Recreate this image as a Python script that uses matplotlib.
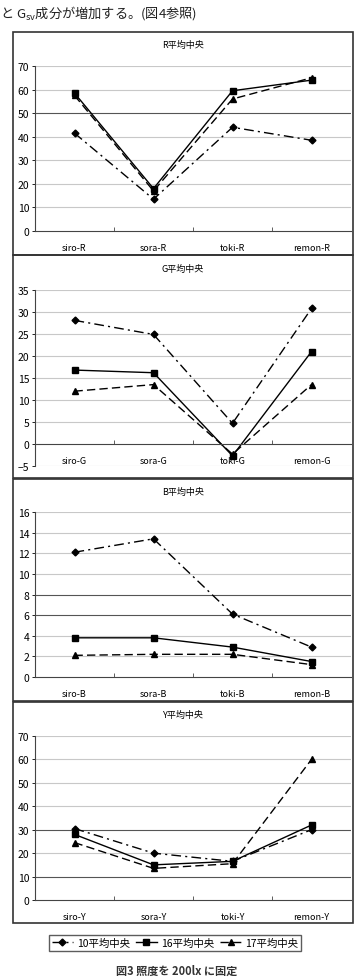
import matplotlib
matplotlib.use('Agg')
import matplotlib.pyplot as plt
from matplotlib.patches import Rectangle

plt.rcParams['font.family'] = ['Noto Sans CJK JP', 'DejaVu Sans']

# データ
series_names = ['10平均中央', '16平均中央', '17平均中央']
panel_titles = ['R平均中央', 'G平均中央', 'B平均中央', 'Y平均中央']
categories = [
    ['siro-R', 'sora-R', 'toki-R', 'remon-R'],
    ['siro-G', 'sora-G', 'toki-G', 'remon-G'],
    ['siro-B', 'sora-B', 'toki-B', 'remon-B'],
    ['siro-Y', 'sora-Y', 'toki-Y', 'remon-Y'],
]
r_vals = [[41.5, 13.5, 44.0, 38.5], [58.5, 18.0, 59.5, 64.0], [57.5, 17.0, 56.0, 65.0]]
g_vals = [[28.1, 24.9, 4.7, 30.8], [16.8, 16.2, -2.7, 21.0], [12.0, 13.5, -2.3, 13.5]]
b_vals = [[12.1, 13.4, 6.1, 2.9], [3.8, 3.8, 2.9, 1.5], [2.1, 2.2, 2.2, 1.2]]
y_vals = [[30.5, 20.0, 16.5, 30.0], [28.0, 15.0, 16.5, 32.0], [24.5, 13.5, 15.5, 60.0]]
all_vals = [r_vals, g_vals, b_vals, y_vals]
y_ticks = [list(range(0, 71, 10)), list(range(-5, 36, 5)), list(range(0, 17, 2)), list(range(0, 71, 10))]
dark_grid = [[50], [], [6, 8], [10, 30]]

# 線種: 一点鎖線+菱形, 実線+四角, 破線+三角
styles = [((0, (7, 3, 1.5, 3)), 'D', 3.5), ('-', 's', 4.5), ((0, (6, 3)), '^', 4.5)]

W, H = 354, 979
fig = plt.figure(figsize=(W / 100, H / 100), dpi=100)


def box(l, t, r, b):
    return [l / W, 1 - b / H, (r - l) / W, (b - t) / H]


ax_boxes = [(35, 67, 351, 232), (35, 291, 351, 467), (35, 513, 351, 678), (35, 737, 351, 901)]
frames = [(13, 33, 353, 256), (13, 256, 353, 479), (13, 480, 353, 702), (13, 703, 353, 924)]
title_y = [45, 269, 492, 715]

# 上部の本文
fig.text(0 / W, 1 - 13 / H, 'と $\\mathregular{G_{sv}}$成分が増加する。(図4参照)',
         fontsize=9.5, va='center', ha='left', color='#222')

for k in range(4):
    fl, ft, fr, fb = frames[k]
    fig.patches.append(Rectangle((fl / W, 1 - fb / H), (fr - fl) / W, (fb - ft) / H,
                                 transform=fig.transFigure, fill=False,
                                 edgecolor='#333', linewidth=1.2))
    fig.text(183 / W, 1 - title_y[k] / H, panel_titles[k], fontsize=6.5,
             ha='center', va='center')

    ax = fig.add_axes(box(*ax_boxes[k]))
    x = range(len(categories[k]))
    lines = []
    for vals, (ls, mk, ms), name in zip(all_vals[k], styles, series_names):
        ln, = ax.plot(x, vals, color='black', linestyle=ls, marker=mk,
                      markersize=ms, linewidth=1.0, label=name)
        lines.append(ln)

    ax.set_xlim(-0.5, 3.5)
    ax.set_ylim(y_ticks[k][0], y_ticks[k][-1])
    ax.set_yticks(y_ticks[k])
    for t in y_ticks[k]:
        if t == 0:
            continue
        c = '#555' if t in dark_grid[k] else '#c8c8c8'
        ax.axhline(t, color=c, linewidth=0.8, zorder=0)

    ax.set_xticks([0.5, 1.5, 2.5])
    ax.set_xticklabels([])
    ax.tick_params(axis='x', direction='in', length=3, width=0.6, color='#444')
    ax.tick_params(axis='y', direction='out', length=2, width=0.6, labelsize=7.5, pad=2)
    ax.spines['top'].set_visible(False)
    ax.spines['right'].set_visible(False)
    ax.spines['bottom'].set_position(('data', 0))
    for s in ('left', 'bottom'):
        ax.spines[s].set_color('#444')
        ax.spines[s].set_linewidth(0.8)
    for i, lab in enumerate(categories[k]):
        ax.annotate(lab, xy=(i, 0), xycoords='data', xytext=(0, -12),
                    textcoords='offset points', ha='center', va='center', fontsize=6.5)

fig.legend(handles=lines, loc='center', bbox_to_anchor=(175 / W, 1 - 944 / H), ncol=3,
           fontsize=7.5, frameon=True, fancybox=False, edgecolor='#333',
           handlelength=2.0, handletextpad=0.4, columnspacing=0.6,
           borderpad=0.25, borderaxespad=0)

fig.text(177 / W, 1 - 978 / H, '図3 照度を 200lx に固定', fontsize=8,
         fontweight='bold', ha='center', va='bottom', color='#333')

fig.savefig('out.png', dpi=100, facecolor='white')
